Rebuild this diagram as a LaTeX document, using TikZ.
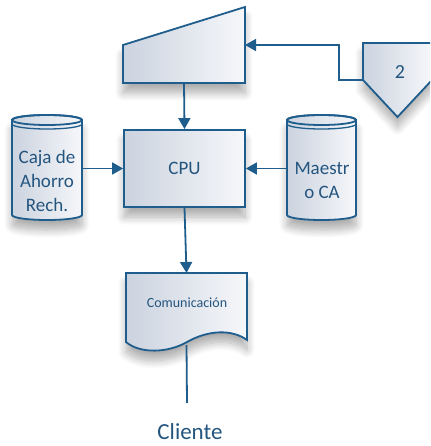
\documentclass[tikz,border=0pt]{standalone}
\usepackage{fontspec}
\setmainfont{Carlito}
\usetikzlibrary{arrows.meta,shadows.blur}
\definecolor{edge}{HTML}{1F5D8C}
\definecolor{ink}{HTML}{24557F}
\definecolor{shadeL}{HTML}{CBD3DF}
\definecolor{shadeR}{HTML}{F6F7FA}

\begin{document}
\begin{tikzpicture}[x=1pt,y=-1pt,
  softshadow/.style={blur shadow={shadow xshift=0pt, shadow yshift=-10pt,
      shadow blur radius=8pt, shadow blur steps=12, shadow opacity=32}},
  shapefill/.style={draw=edge, line width=1.8pt, left color=shadeL,
      right color=shadeR, softshadow},
  outline/.style={draw=edge, line width=1.8pt},
  ringline/.style={draw=edge, line width=1.3pt},
  flow/.style={draw=edge, line width=1.8pt, -{Triangle[length=11pt,width=12pt]}},
  plain/.style={draw=edge, line width=1.8pt},
  frame/.style={inner sep=0pt, outer sep=0pt, minimum width=#1},
  lbl/.style={text=ink, font=\fontsize{19}{24}\selectfont, align=center},
  smalllbl/.style={text=ink, font=\fontsize{14}{16}\selectfont},
  biglbl/.style={text=ink, font=\fontsize{23}{27}\selectfont}]

\useasboundingbox (0,0) rectangle (430,446);
\clip (0,0) rectangle (430,446);

% manual input (trapezoid)
\node[frame=122pt, minimum height=76pt] (input) at (184,45) {};
\path[shapefill] (input.south west) -- (input.west) -- (input.north east)
  -- (input.south east) -- cycle;

% off-page connector "2"
\node[frame=69pt, minimum height=74pt] (conn) at (397.5,80) {};
\path[shapefill] (363,43) -- (432,43) -- (432,80) -- (conn.south) -- (363,80) -- cycle;
\node[text=ink, font=\fontsize{20}{24}\selectfont] (two) at (400,72) {2};

% processing unit
\node[shapefill, rectangle, minimum width=121pt, minimum height=77pt, inner sep=0pt,
  lbl] (cpu) at (184.5,168.5) {CPU};

% left storage cylinder
\node[frame=70pt, minimum height=105pt] (caja) at (47,168.5) {};
\path[shapefill] (12,120) -- (12,215) arc (180:0:35 and 5) -- (82,120)
  arc (0:-180:35 and 5) -- cycle;
\draw[outline] (47,120) ellipse (35 and 5);
\draw[ringline] (12,124) arc (180:0:35 and 5);
\node[lbl] (cajatext) at (47,181) {Caja de\\Ahorro\\Rech.};

% right storage cylinder
\node[frame=69pt, minimum height=105pt] (maestro) at (321.5,168.5) {};
\path[shapefill] (287,120) -- (287,215) arc (180:0:34.5 and 5) -- (356,120)
  arc (0:-180:34.5 and 5) -- cycle;
\draw[outline] (321.5,120) ellipse (34.5 and 5);
\draw[ringline] (287,124) arc (180:0:34.5 and 5);
\node[lbl] (maestrotext) at (322,180.5) {Maestr\\o CA};

% document
\node[frame=121pt, minimum height=72pt] (doc) at (186.5,309) {};
\path[shapefill] (126,273) -- (247,273) -- (247,340)
  .. controls (232,329) and (208,330) .. (187,342)
  .. controls (168,353) and (140,354) .. (126,342) -- cycle;
\node[smalllbl] (doctext) at (187,303) {Comunicación};

% client label
\node[biglbl] (cliente) at (190,432) {Cliente};
\coordinate (clientetop) at (187,403);

% connectors
\draw[flow] (conn.west) -- ++(-24,0) |- (input.east);
\draw[flow] (input.south) -- (cpu.north);
\draw[flow] (caja.east) -- (cpu.west);
\draw[flow] (maestro.west) -- (cpu.east);
\draw[flow] (cpu.south) -- (doc.north);
\draw[plain] (doc.south) -- (clientetop);
\end{tikzpicture}
\end{document}
